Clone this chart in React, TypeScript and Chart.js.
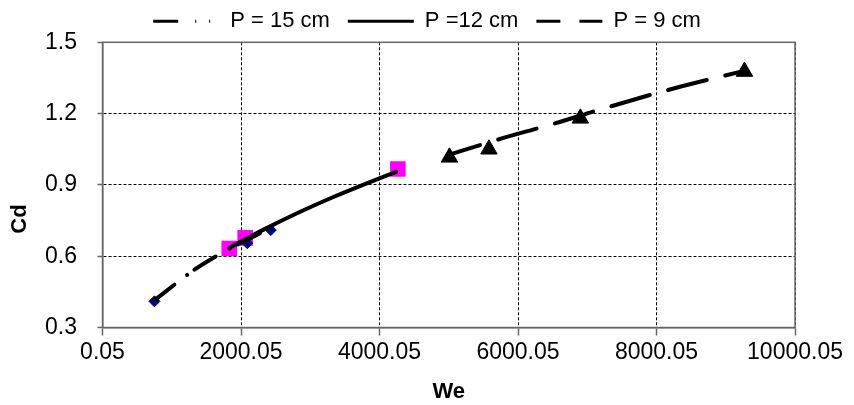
import { useEffect, useRef } from 'react';
import { Chart, registerables } from 'chart.js';

Chart.register(...registerables);

const FONT = 'Arial, "Liberation Sans", sans-serif';

const SERIES_LABELS = ['P = 15 cm', 'P =12 cm', 'P = 9 cm'];
const X_TICKS = [0.05, 2000.05, 4000.05, 6000.05, 8000.05, 10000.05];
const Y_TICKS = [0.3, 0.6, 0.9, 1.2, 1.5];
const X_TITLE = 'We';
const Y_TITLE = 'Cd';

// measured points (markers)
const P15_WE = [750, 2090, 2430];
const P15_CD = [0.41, 0.655, 0.71];
const P12_WE = [1830, 2060, 4265];
const P12_CD = [0.632, 0.677, 0.967];
const P9_WE = [5010, 5580, 6900, 9270];
const P9_CD = [1.016, 1.05, 1.18, 1.377];

// trend lines
const P15_TREND_WE = [753, 1087, 1326, 1781, 2115, 2444];
const P15_TREND_CD = [0.415, 0.491, 0.543, 0.623, 0.673, 0.723];
const P12_TREND_WE = [1828, 2354, 2832, 3309, 3788, 4241];
const P12_TREND_CD = [0.634, 0.716, 0.784, 0.846, 0.903, 0.955];
const P9_TREND_WE = [5010, 5700, 6500, 7300, 8300, 9280];
const P9_TREND_CD = [1.027, 1.09, 1.156, 1.227, 1.31, 1.381];

const LEGEND_DASHES = [[25, 17, 1, 13, 1, 30], [], [24, 19]];

const pts = (xs: number[], ys: number[]) => xs.map((x, i) => ({ x, y: ys[i] }));

const frameAndTitle = {
  id: 'frameAndTitle',
  beforeDatasetsDraw(chart: any) {
    const { ctx, chartArea: a } = chart;
    ctx.save();
    ctx.strokeStyle = '#666';
    ctx.lineWidth = 1.5;
    ctx.setLineDash([]);
    ctx.strokeRect(a.left, a.top, a.right - a.left, a.bottom - a.top);
    ctx.restore();
  },
  afterDraw(chart: any) {
    const ctx = chart.ctx;
    ctx.save();
    ctx.translate(12, 211);
    ctx.rotate(-Math.PI / 2);
    ctx.font = `bold 22px ${FONT}`;
    ctx.fillStyle = '#000';
    ctx.textAlign = 'center';
    ctx.textBaseline = 'middle';
    ctx.fillText(Y_TITLE, 0, 0);
    ctx.restore();
  },
};

export default function App() {
  const ref = useRef<HTMLCanvasElement>(null);
  useEffect(() => {
    const lineBase = {
      showLine: true,
      borderColor: '#000',
      backgroundColor: '#000',
      borderWidth: 4,
      borderCapStyle: 'round',
      pointRadius: 0,
      pointHoverRadius: 0,
      cubicInterpolationMode: 'monotone',
      order: 0,
    };
    const chart = new Chart(ref.current!, {
      type: 'scatter',
      data: {
        datasets: [
          { ...lineBase, label: SERIES_LABELS[0], data: pts(P15_TREND_WE, P15_TREND_CD), borderDash: [25, 16, 0.1, 9] },
          { ...lineBase, label: SERIES_LABELS[1], data: pts(P12_TREND_WE, P12_TREND_CD) },
          { ...lineBase, label: SERIES_LABELS[2], data: pts(P9_TREND_WE, P9_TREND_CD), borderDash: [40, 19], borderDashOffset: 8 },
          {
            label: SERIES_LABELS[0], data: pts(P15_WE, P15_CD), showLine: false, pointStyle: 'rectRot',
            pointRadius: 5.5, backgroundColor: '#000080', borderColor: '#000080', borderWidth: 1, order: 1,
          },
          {
            label: SERIES_LABELS[1], data: pts(P12_WE, P12_CD), showLine: false, pointStyle: 'rect',
            pointRadius: 11, backgroundColor: '#FF00FF', borderColor: '#FF00FF', borderWidth: 0, order: 1,
          },
          {
            label: SERIES_LABELS[2], data: pts(P9_WE, P9_CD), showLine: false, pointStyle: 'triangle',
            pointRadius: 9.5, backgroundColor: '#000', borderColor: '#000', borderWidth: 1, order: 1,
          },
        ] as any,
      },
      options: {
        animation: false,
        responsive: true,
        maintainAspectRatio: false,
        layout: { padding: { top: -24, left: 0, right: 0, bottom: 0 } },
        plugins: {
          tooltip: { enabled: false },
          legend: {
            position: 'top',
            maxHeight: 55,
            labels: {
              usePointStyle: true,
              pointStyle: 'line',
              pointStyleWidth: 66,
              padding: 18,
              color: '#000',
              font: { family: FONT, size: 22 },
              generateLabels: (c: any) =>
                (Chart.defaults.plugins.legend.labels as any)
                  .generateLabels(c)
                  .filter((i: any) => i.datasetIndex < 3)
                  .map((i: any) => ({
                    ...i,
                    lineWidth: 3,
                    lineDash: LEGEND_DASHES[i.datasetIndex],
                    lineDashOffset: 0,
                    pointStyle: 'line',
                  })),
            },
          },
        },
        scales: {
          x: {
            type: 'linear',
            min: X_TICKS[0],
            max: X_TICKS[X_TICKS.length - 1],
            afterBuildTicks: (axis: any) => {
              axis.ticks = X_TICKS.map((v) => ({ value: v }));
            },
            afterFit: (s: any) => {
              s.height = 77.5;
            },
            ticks: {
              callback: (v: any) => String(v),
              color: '#000',
              font: { family: FONT, size: 23 },
              padding: 3,
              maxRotation: 0,
              autoSkip: false,
            },
            grid: { color: '#000', lineWidth: 1, tickLength: 8, tickColor: '#666', tickWidth: 1.5 },
            border: { display: true, color: '#666', width: 1.5, dash: [3, 2] },
            title: {
              display: true,
              text: X_TITLE,
              color: '#000',
              font: { family: FONT, size: 22, weight: 'bold', lineHeight: 1 },
              padding: { top: 16, bottom: 2 },
            },
          },
          y: {
            type: 'linear',
            min: Y_TICKS[0],
            max: Y_TICKS[Y_TICKS.length - 1],
            afterBuildTicks: (axis: any) => {
              axis.ticks = Y_TICKS.map((v) => ({ value: v }));
            },
            afterFit: (s: any) => {
              s.width = 94.5;
            },
            ticks: {
              callback: (v: any) => Number(v).toFixed(1),
              color: '#000',
              font: { family: FONT, size: 23 },
              padding: 20.5,
            },
            grid: { color: '#000', lineWidth: 1, tickLength: 5, tickColor: '#666', tickWidth: 1.5 },
            border: { display: true, color: '#666', width: 1.5, dash: [3, 2] },
          },
        },
      } as any,
      plugins: [frameAndTitle],
    });
    return () => chart.destroy();
  }, []);
  return (
    <div style={{ position: 'relative', width: '838px', height: '397px' }}>
      <canvas ref={ref} />
    </div>
  );
}
